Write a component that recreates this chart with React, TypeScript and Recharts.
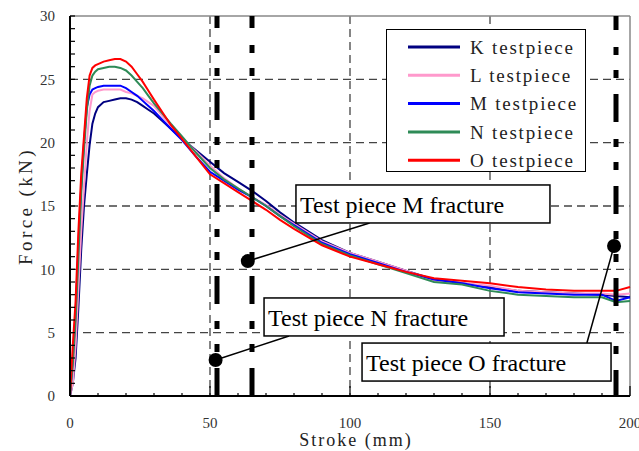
import React from 'react';
import {
  LineChart, Line, XAxis, YAxis, CartesianGrid, ReferenceLine, ReferenceDot, Legend, Label,
} from 'recharts';

// stroke positions (mm) where the curves were read
const stroke = [0, 1, 2, 3, 4, 5, 6, 7, 8, 9, 10, 12, 14, 16, 18, 20, 22, 24, 26, 28, 30, 33, 36, 40, 45, 50, 55, 60, 65, 70, 75, 80, 90, 100, 110, 120, 130, 140, 150, 160, 170, 180, 190, 195, 200];

// force (kN) per test piece
const pieceK = [0, 1, 3, 7, 11.5, 15, 17.5, 19.8, 21.5, 22.3, 22.8, 23.2, 23.3, 23.4, 23.5, 23.5, 23.4, 23.2, 22.9, 22.6, 22.3, 21.7, 21.1, 20.3, 19.4, 18.5, 17.6, 16.9, 16.2, 15.4, 14.5, 13.7, 12.3, 11.3, 10.6, 9.9, 9.2, 8.9, 8.6, 8.3, 8.2, 8.1, 8.0, 7.9, 7.8];
const pieceL = [0, 1, 4, 8.5, 13, 16.5, 20, 22.5, 23.8, 24.0, 24.1, 24.2, 24.2, 24.2, 24.2, 24.0, 23.9, 23.7, 23.5, 23.2, 22.9, 22.1, 21.3, 20.4, 19.3, 18.2, 17.2, 16.4, 15.7, 15.1, 14.3, 13.6, 12.2, 11.3, 10.6, 9.9, 9.1, 8.9, 8.7, 8.3, 8.2, 8.1, 8.1, 8.0, 8.1];
const pieceM = [0, 3, 6.5, 12, 16.5, 20, 22.8, 23.8, 24.2, 24.3, 24.4, 24.5, 24.5, 24.5, 24.5, 24.3, 24.0, 23.7, 23.3, 22.9, 22.5, 21.8, 21.1, 20.2, 18.9, 17.7, 17.0, 16.3, 15.7, 15.0, 14.2, 13.5, 12.1, 11.2, 10.5, 9.8, 9.2, 8.9, 8.5, 8.2, 8.1, 8.0, 8.0, 7.5, 7.8];
const pieceN = [0, 2.5, 6, 11, 16, 19.5, 22.5, 24.5, 25.3, 25.6, 25.8, 25.9, 26.0, 26.0, 25.9, 25.7, 25.3, 24.8, 24.3, 23.7, 23.1, 22.3, 21.5, 20.5, 19.2, 18.0, 17.1, 16.4, 15.7, 15.0, 14.2, 13.4, 12.0, 11.1, 10.4, 9.7, 9.0, 8.8, 8.3, 8.0, 7.9, 7.8, 7.8, 7.4, 7.5];
const pieceO = [0, 4, 7.5, 13, 17.5, 20.5, 23.5, 25.3, 25.9, 26.1, 26.2, 26.4, 26.5, 26.6, 26.6, 26.4, 26.0, 25.4, 24.8, 24.1, 23.4, 22.4, 21.4, 20.3, 18.9, 17.5, 16.8, 16.1, 15.4, 14.7, 13.9, 13.2, 11.9, 11.0, 10.4, 9.8, 9.3, 9.1, 8.9, 8.6, 8.4, 8.3, 8.3, 8.3, 8.6];

const xTicks = [0, 10, 20, 30, 40, 50, 60, 70, 80, 90, 100, 110, 120, 130, 140, 150, 160, 170, 180, 190, 200];
const yTicks = Array.from({ length: 31 }, (_, i) => i);

// stroke where each piece broke
const fractureStroke = [52.5, 65, 195];

const notes = [
  { text: 'Test piece M fracture', dot: [63.5, 10.65], end: [107, 13.66], box: [80.7, 16.66], w: 254 },
  { text: 'Test piece N fracture', dot: [52, 2.84], end: [78.2, 4.74], box: [69.3, 7.74], w: 240 },
  { text: 'Test piece O fracture', dot: [194.3, 11.84], end: [184.6, 4.18], box: [104.3, 4.18], w: 249 },
];

const series = [
  { key: 'K', name: 'K testpiece', color: '#000080', values: pieceK },
  { key: 'L', name: 'L testpiece', color: '#ff99cc', values: pieceL },
  { key: 'M', name: 'M testpiece', color: '#0000ff', values: pieceM },
  { key: 'N', name: 'N testpiece', color: '#2e8b57', values: pieceN },
  { key: 'O', name: 'O testpiece', color: '#ff0000', values: pieceO },
];

const data = stroke.map((x, i) => {
  const row: any = { x };
  series.forEach((s) => { row[s.key] = s.values[i]; });
  return row;
});

const serif = '"Liberation Serif", serif';
const tickFont = { fontFamily: serif, fontSize: 15, fill: '#333' };
const titleFont = { fontFamily: serif, fontSize: 19, fill: '#222' };

const YTick = ({ x, y, payload }: any) => (
  <g>
    <line x1={x} x2={x + 5} y1={y} y2={y} stroke="#000" strokeWidth={1.2} />
    {payload.value % 5 === 0 && (
      <text x={x - 15} y={y} dy="0.35em" textAnchor="end" {...tickFont}>{payload.value}</text>
    )}
  </g>
);

const XTick = ({ x, y, payload }: any) => {
  const major = payload.value % 50 === 0;
  return (
    <g>
      <line x1={x} x2={x} y1={y} y2={y - (major ? 10 : 3)} stroke="#000" strokeWidth={1.2} />
      {major && (
        <text x={x} y={y + 27} dy="0.35em" textAnchor="middle" {...tickFont}>{payload.value}</text>
      )}
    </g>
  );
};

const NoteBox = ({ cx, cy, text, w }: any) => (
  <g>
    <rect x={cx} y={cy} width={w} height={38} fill="#fff" stroke="#000" strokeWidth={1.5} />
    <text x={cx + 4} y={cy + 28} fontFamily={serif} fontSize={24} fill="#000">{text}</text>
  </g>
);

const LegendBox = () => (
  <div style={{ width: 200, height: 143, boxSizing: 'border-box', border: '1.5px solid #000', background: '#fff' }}>
    <svg width={197} height={140} style={{ overflow: 'visible' }}>
      {series.map((s, i) => (
        <g key={s.key}>
          <line x1={21} x2={73} y1={17 + i * 28.3} y2={17 + i * 28.3} stroke={s.color} strokeWidth={3} />
          <text x={83} y={17 + i * 28.3} dy="0.35em" letterSpacing={1.8} {...titleFont}>{s.name}</text>
        </g>
      ))}
    </svg>
  </div>
);

const YTitle = ({ viewBox }: any) => {
  const cx = viewBox.x + 25;
  const cy = viewBox.y + viewBox.height / 2;
  return (
    <text x={cx} y={cy} transform={`rotate(-90 ${cx} ${cy})`} textAnchor="middle" dy="0.35em" letterSpacing={3.4} {...titleFont}>Force (kN)</text>
  );
};

const XTitle = ({ viewBox }: any) => (
  <text x={viewBox.x + viewBox.width / 2 + 6} y={viewBox.y + 44} textAnchor="middle" dy="0.35em" letterSpacing={2} fontFamily={serif} fontSize={18} fill="#222">Stroke (mm)</text>
);

export default function App() {
  return (
    <div style={{ position: 'absolute', left: 0, top: 0, background: '#fff' }}>
      <LineChart width={639} height={451} data={data} margin={{ top: 16, right: 9, bottom: 0, left: 0 }}>
        <CartesianGrid
          stroke="#444"
          strokeWidth={1.3}
          strokeDasharray="8 5"
          horizontalValues={[5, 10, 15, 20, 25]}
          verticalValues={[50, 100, 150]}
        />
        <XAxis
          dataKey="x"
          type="number"
          domain={[0, 200]}
          ticks={xTicks}
          interval={0}
          height={55}
          tickSize={0}
          tickMargin={0}
          tickLine={false}
          tick={<XTick />}
          axisLine={{ stroke: '#000', strokeWidth: 2 }}
        >
          <Label content={<XTitle />} />
        </XAxis>
        <YAxis
          type="number"
          domain={[0, 30]}
          ticks={yTicks}
          interval={0}
          width={70}
          tickSize={0}
          tickMargin={0}
          tickLine={false}
          tick={<YTick />}
          axisLine={{ stroke: '#000', strokeWidth: 2 }}
        >
          <Label content={<YTitle />} />
        </YAxis>
        <ReferenceLine y={30} stroke="#888" strokeWidth={1.5} />
        <ReferenceLine x={200} stroke="#888" strokeWidth={1.5} />
        {series.map((s) => (
          <Line
            key={s.key}
            dataKey={s.key}
            name={s.name}
            type="linear"
            stroke={s.color}
            strokeWidth={2}
            dot={false}
            isAnimationActive={false}
          />
        ))}
        {fractureStroke.map((fx, i) => (
          <ReferenceLine
            key={fx}
            segment={[{ x: fx, y: 30 }, { x: fx, y: 0 }]}
            stroke="#000"
            strokeWidth={5}
            strokeDasharray="28 17 8 15 8 16"
            strokeDashoffset={i === 2 ? 14 : 16}
          />
        ))}
        {notes.map((n) => (
          <ReferenceLine
            key={n.text + 'lead'}
            segment={[{ x: n.dot[0], y: n.dot[1] }, { x: n.end[0], y: n.end[1] }]}
            stroke="#000"
            strokeWidth={1.5}
          />
        ))}
        {notes.map((n) => (
          <ReferenceDot key={n.text + 'dot'} x={n.dot[0]} y={n.dot[1]} r={7} fill="#000" stroke="none" />
        ))}
        {notes.map((n) => (
          <ReferenceDot
            key={n.text}
            x={n.box[0]}
            y={n.box[1]}
            r={0}
            shape={(p: any) => <NoteBox cx={p.cx} cy={p.cy} text={n.text} w={n.w} />}
          />
        ))}
        <Legend
          layout="vertical"
          align="center"
          verticalAlign="middle"
          wrapperStyle={{ left: 386, top: 29, width: 200, height: 143 }}
          content={() => <LegendBox />}
        />
      </LineChart>
    </div>
  );
}
